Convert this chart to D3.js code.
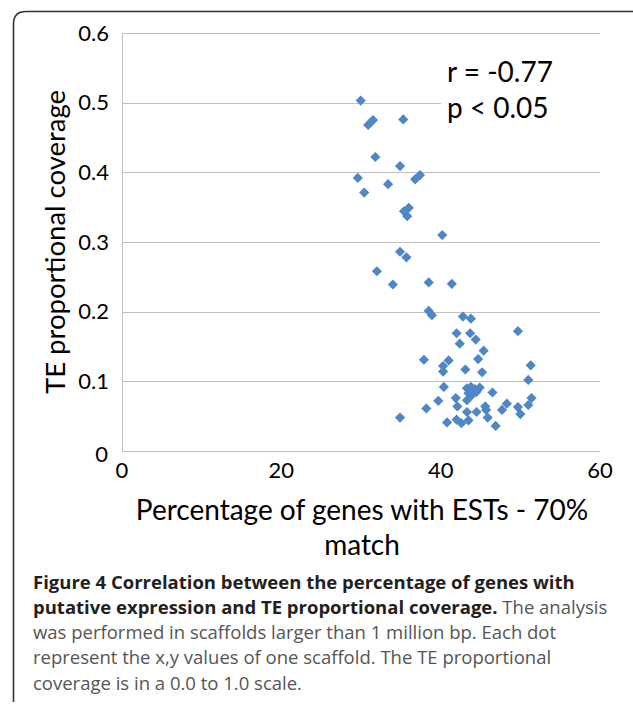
<!DOCTYPE html>
<meta charset="utf-8">
<style>
body {
  margin: 0;
  background: #fff;
}
.grid line {
  stroke: #c0c0c0;
  stroke-width: 1;
}
.tick-label {
  font: 22px Lato, sans-serif;
  fill: #000;
}
.caption {
  font: 18.5px "Open Sans", sans-serif;
  fill: #555;
}
</style>
<body>
<script src="https://d3js.org/d3.v7.min.js"></script>
<script>

// percentage of genes with ESTs (x) and TE proportional coverage (y), one per scaffold
const pctGenes = [
  29.96, 30.9, 31.5, 35.3, 31.8, 34.9, 29.6, 33.4, 36.8, 37.4,
  30.4, 35.4, 36.0, 35.8, 40.2, 34.9, 35.7, 32.0, 34.0, 38.5,
  41.4, 38.5, 38.9, 37.9, 40.3, 40.3, 41.0, 40.4, 39.7, 38.2,
  34.9, 40.8, 42.8, 43.8, 49.7, 42.0, 43.7, 42.4, 44.4, 45.4,
  44.7, 51.3, 43.1, 45.2, 51.0, 43.3, 43.8, 44.3, 44.9, 43.5,
  43.9, 44.5, 46.5, 41.9, 43.3, 42.1, 48.3, 47.7, 51.4, 51.0,
  49.7, 50.0, 45.6, 45.7, 44.5, 43.3, 45.9, 42.0, 42.6, 43.5,
  46.9
];
const teCoverage = [
  0.503, 0.468, 0.475, 0.476, 0.422, 0.409, 0.392, 0.383, 0.390, 0.396,
  0.371, 0.344, 0.349, 0.337, 0.310, 0.286, 0.278, 0.258, 0.239, 0.242,
  0.240, 0.201, 0.195, 0.131, 0.122, 0.114, 0.130, 0.092, 0.072, 0.061,
  0.048, 0.041, 0.193, 0.190, 0.172, 0.169, 0.169, 0.154, 0.160, 0.144,
  0.132, 0.123, 0.117, 0.113, 0.102, 0.090, 0.092, 0.089, 0.091, 0.083,
  0.080, 0.085, 0.084, 0.076, 0.073, 0.064, 0.068, 0.059, 0.076, 0.066,
  0.063, 0.053, 0.064, 0.059, 0.056, 0.056, 0.048, 0.045, 0.040, 0.044,
  0.036
];
const xTicks = [0, 20, 40, 60];
const yTicks = [0, 0.1, 0.2, 0.3, 0.4, 0.5, 0.6];
const statLines = ["r = -0.77", "p < 0.05"];
const captionBold = ["Figure 4 Correlation between the percentage of genes with", "putative expression and TE proportional coverage."];
const captionRest = [" The analysis", "was performed in scaffolds larger than 1 million bp. Each dot",
  "represent the x,y values of one scaffold. The TE proportional", "coverage is in a 0.0 to 1.0 scale."];

var W = 633, H = 705;

var svg = d3.select("body").append("svg")
    .attr("width", W)
    .attr("height", H);

// frame with rounded top-left corner
svg.append("path")
    .attr("d", "M13.5,702 L13.5,24 Q13.5,11.5 26,11.5 L633,11.5")
    .attr("fill", "none")
    .attr("stroke", "#333")
    .attr("stroke-width", 1.6);

var x = d3.scaleLinear().domain([0, 60]).range([122, 600]);
var y = d3.scaleLinear().domain([0, 0.6]).range([451, 33]);

// gridlines
svg.append("g").attr("class", "grid")
  .selectAll("line")
  .data(yTicks)
  .enter().append("line")
    .attr("x1", x(0))
    .attr("x2", x(60))
    .attr("y1", d => Math.round(y(d)) + 0.5)
    .attr("y2", d => Math.round(y(d)) + 0.5);

svg.append("line")
    .attr("x1", Math.round(x(0)) + 0.5)
    .attr("x2", Math.round(x(0)) + 0.5)
    .attr("y1", y(0.6))
    .attr("y2", y(0))
    .attr("stroke", "#c0c0c0");

// y tick labels
svg.selectAll(".ylab")
  .data(yTicks)
  .enter().append("text")
    .attr("class", "tick-label")
    .attr("x", d => d === 0 ? 108 : 109)
    .attr("y", d => y(d) + (d === 0 ? 3 : 0))
    .attr("dy", "0.35em")
    .attr("text-anchor", "end")
    .text(d => d === 0 ? "0" : d3.format(".1f")(d));

// x tick labels
svg.selectAll(".xlab")
  .data(xTicks)
  .enter().append("text")
    .attr("class", "tick-label")
    .attr("x", d => x(d))
    .attr("y", 470)
    .attr("dy", "0.35em")
    .attr("text-anchor", "middle")
    .text(d => d);

// axis titles
svg.append("text")
    .attr("transform", "translate(55," + 242 + ") rotate(-90)")
    .attr("text-anchor", "middle")
    .attr("dy", "0.35em")
    .style("font", "27.5px Lato, sans-serif")
    .text("TE proportional coverage");

svg.append("text")
    .attr("x", 362)
    .attr("y", 510)
    .attr("dy", "0.35em")
    .attr("text-anchor", "middle")
    .style("font", "28px Lato, sans-serif")
    .text("Percentage of genes with ESTs - 70%");

svg.append("text")
    .attr("x", 362)
    .attr("y", 545)
    .attr("dy", "0.35em")
    .attr("text-anchor", "middle")
    .style("font", "28px Lato, sans-serif")
    .text("match");

// stats box (white background hides the gridline)
svg.append("rect")
    .attr("x", 441)
    .attr("y", 52)
    .attr("width", 159)
    .attr("height", 75)
    .attr("fill", "#fff");

svg.selectAll(".stat")
  .data(statLines)
  .enter().append("text")
    .attr("x", 447)
    .attr("y", (d, i) => 72 + i * 36)
    .attr("dy", "0.35em")
    .style("font", "28px Lato, sans-serif")
    .text(d => d);

// points
var diamond = d3.symbol().type(d3.symbolSquare).size(52);
svg.append("g")
  .selectAll("path")
  .data(pctGenes.map((v, i) => [v, teCoverage[i]]))
  .enter().append("path")
    .attr("d", diamond)
    .attr("transform", d => "translate(" + x(d[0]) + "," + y(d[1]) + ") rotate(45)")
    .attr("fill", "#4f86c6");

// caption
var cap = svg.append("g");
var lineY = [583, 608, 633, 658, 684];
for (var i = 0; i < 5; i++) {
  var t = cap.append("text")
      .attr("class", "caption")
      .attr("x", 33)
      .attr("y", lineY[i])
      .attr("dy", "0.35em");
  if (i < 2) {
    t.append("tspan")
        .style("font-weight", "bold")
        .style("fill", "#231f20")
        .text(captionBold[i]);
  }
  if (i === 1) t.append("tspan").text(captionRest[0]);
  if (i > 1) t.text(captionRest[i - 1]);
}

</script>
</body>
</html>
